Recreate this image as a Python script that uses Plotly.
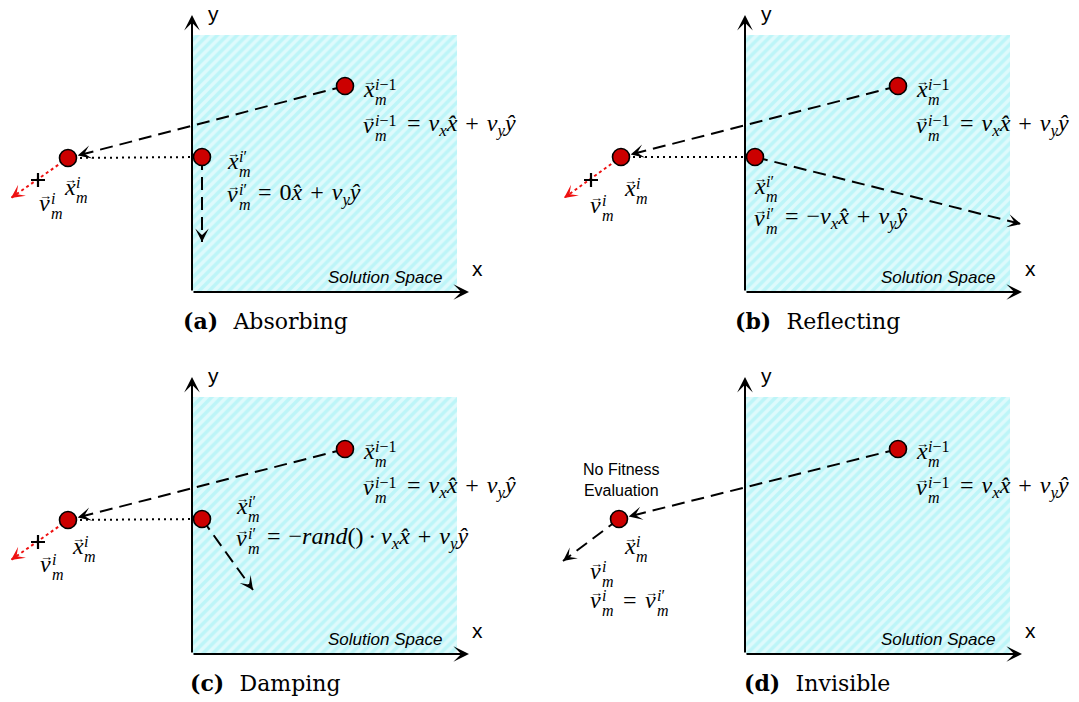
import math
import plotly.graph_objects as go

# ---------------------------------------------------------------------------
# Boundary-handling strategies for a particle leaving the solution space.
# Every panel shares the same local frame (pixels, origin at panel top-left);
# panels are shifted by PANEL_DX / PANEL_DY on the canvas.
# ---------------------------------------------------------------------------
PANEL_TAGS = ["(a)", "(b)", "(c)", "(d)"]
PANEL_NAMES = ["Absorbing", "Reflecting", "Damping", "Invisible"]
PANEL_DX = [0, 553, 0, 553]
PANEL_DY = [0, 0, 362, 362]

# solution space (hatched box) and coordinate axes
SPACE_X = [193, 457]
SPACE_Y = [35, 292]
AXIS_ORIGIN = [192, 292]
AXIS_X_TIP = 469
AXIS_Y_TIP = 15

# particle positions: previous (inside), new (outside), corrected (on boundary)
PREV_X = [345, 345, 345, 345]
PREV_Y = [86, 86, 87, 87]
NEW_X = [68, 68, 68, 66]
NEW_Y = [158, 157, 158, 157]
PRIME_X = [202, 202, 202, None]
PRIME_Y = [157, 157, 157, None]

# tip of the velocity vector after the boundary rule is applied
VEL_TIP_X = [202, 468, 253, 10]
VEL_TIP_Y = [242, 224, 228, 199]

# discarded (red) velocity of the out-of-bounds particle and its end mark
RED_TIP_X = [11, 11, 11, None]
RED_TIP_Y = [198, 198, 198, None]
PLUS_X = [38, 38, 38, None]
PLUS_Y = [180, 180, 180, None]

SP = "\u2004"
RHS_PREV = f"={SP}<i>v<sub>x</sub>x\u0302</i>{SP}+{SP}<i>v<sub>y</sub>\u0177</i>"
RHS_PRIME = [
    f"={SP}0<i>x\u0302</i>{SP}+{SP}<i>v<sub>y</sub>\u0177</i>",
    f"={SP}\u2212<i>v<sub>x</sub>x\u0302</i>{SP}+{SP}<i>v<sub>y</sub>\u0177</i>",
    f"={SP}\u2212<i>rand</i>()\u2009\u00b7\u2009<i>v<sub>x</sub>x\u0302</i>{SP}+{SP}<i>v<sub>y</sub>\u0177</i>",
    None,
]
SUP_PREV = "<i>i</i>\u22121"
SUP_PRIME = "<i>i</i>\u2032"
SUP_NEW = "<i>i</i>"

# label placement (left edge of the symbol, vertical centre) per panel
LBL_PRIME_X = [227, 201, 236, None]
LBL_PRIME_Y = [163, 188, 146, None]
LBL_VPRIME_Y = [196, 220, 178, None]
LBL_NEW_X = [64, 71, 72, 71]
LBL_NEW_Y = [189, 190, 186, 186]
LBL_VNEW_X = [39, 37, 40, 37]
LBL_VNEW_Y = [205, 207, 204, 211]

MATH_FONT = "Liberation Serif"
MATH_SIZE = 24
SCRIPT_SIZE = 16
BLACK = "#000000"
RED = "#ee1111"
DASH = "13px,7px"

fig = go.Figure()


def text(s, x, y, size, anchor="left", font=MATH_FONT, color=BLACK, yanchor="middle"):
    fig.add_annotation(x=x, y=y, xref="x", yref="y", text=s, showarrow=False,
                       xanchor=anchor, yanchor=yanchor, borderpad=0,
                       font=dict(family=font, size=size, color=color))


def vec_symbol(x, y, letter, sup):
    text(f"<i>{letter}</i>", x - 1, y - 2, MATH_SIZE)
    text("\u2192", x + 6, y - 10, 13, anchor="center")
    text(sup, x + 11, y - 7, SCRIPT_SIZE)
    text("<i>m</i>", x + 11, y + 8, SCRIPT_SIZE)


def head(tx, ty, fx, fy, color=BLACK, back=8, standoff=0, width=1.5, size=1.5):
    d = math.hypot(tx - fx, ty - fy)
    ux, uy = (tx - fx) / d, (ty - fy) / d
    fig.add_annotation(x=tx, y=ty, ax=tx - ux * back, ay=ty - uy * back,
                       xref="x", yref="y", axref="x", ayref="y", text="",
                       showarrow=True, arrowhead=3, arrowsize=size,
                       arrowwidth=width, arrowcolor=color, standoff=standoff)


def line(xs, ys, color=BLACK, dash=DASH, width=2):
    fig.add_trace(go.Scatter(x=xs, y=ys, mode="lines", hoverinfo="skip",
                             line=dict(color=color, width=width, dash=dash)))


circ_x, circ_y = [], []
plus_x, plus_y = [], []

for p in range(4):
    dx, dy = PANEL_DX[p], PANEL_DY[p]

    # hatched solution space
    x0, x1 = SPACE_X[0] + dx, SPACE_X[1] + dx
    y0, y1 = SPACE_Y[0] + dy, SPACE_Y[1] + dy
    fig.add_trace(go.Scatter(
        x=[x0, x1, x1, x0, x0], y=[y0, y0, y1, y1, y0], mode="lines",
        fill="toself", line=dict(width=0), hoverinfo="skip",
        fillcolor="#bdf5f8",
        fillpattern=dict(shape="/", bgcolor="#bdf5f8", fgcolor="#ffffff",
                         size=7, solidity=0.5)))

    # axes
    ox, oy = AXIS_ORIGIN[0] + dx, AXIS_ORIGIN[1] + dy
    for tx, ty in [(AXIS_X_TIP + dx, oy), (ox, AXIS_Y_TIP + dy)]:
        fig.add_annotation(x=tx, y=ty, ax=ox, ay=oy, xref="x", yref="y",
                           axref="x", ayref="y", text="", showarrow=True,
                           arrowhead=3, arrowsize=1.3, arrowwidth=2,
                           arrowcolor=BLACK)
    text("x", AXIS_X_TIP + 2 + dx, 268 + dy, 21, font="Liberation Sans")
    text("y", ox + 15, 13 + dy, 21, font="Liberation Sans")
    text("<i>Solution Space</i>", 443 + dx, 277 + dy, 17, anchor="right",
         font="Liberation Sans")

    # caption
    text(f"<b>{PANEL_TAGS[p]}</b>\u2002\u2009{PANEL_NAMES[p]}",
         265 + dx - (p % 2), 321 + dy, 22, anchor="center",
         font="DejaVu Serif")

    px, py = PREV_X[p] + dx, PREV_Y[p] + dy
    nx, ny = NEW_X[p] + dx, NEW_Y[p] + dy
    circ_x += [px, nx]
    circ_y += [py, ny]

    # unconstrained move: previous -> new position
    line([px, nx], [py, ny])
    head(nx, ny, px, py, back=20, standoff=10)

    vtx, vty = VEL_TIP_X[p] + dx, VEL_TIP_Y[p] + dy
    if PRIME_X[p] is not None:
        qx, qy = PRIME_X[p] + dx, PRIME_Y[p] + dy
        circ_x.append(qx)
        circ_y.append(qy)
        # projection back onto the boundary
        line([qx, nx], [qy, ny], dash="2px,4px", width=2)
        # corrected velocity
        line([qx, vtx], [qy, vty])
        head(vtx, vty, qx, qy)
        # discarded velocity of the out-of-bounds particle
        rtx, rty = RED_TIP_X[p] + dx, RED_TIP_Y[p] + dy
        line([nx, rtx], [ny, rty], color=RED, dash="3px,3px", width=2)
        head(rtx, rty, nx, ny, color=RED)
        plus_x.append(PLUS_X[p] + dx)
        plus_y.append(PLUS_Y[p] + dy)
    else:
        # invisible wall: the particle keeps its velocity
        line([nx, vtx], [ny, vty])
        head(vtx, vty, nx, ny)
        text("No Fitness<br>Evaluation", nx + 2, 118 + dy, 16,
             anchor="center", font="Liberation Sans")

    # labels for previous position and velocity
    vec_symbol(363 + dx, 91 + dy, "x", SUP_PREV)
    vec_symbol(363 + dx, 127 + dy, "v", SUP_PREV)
    text(RHS_PREV, 406 + dx, 125 + dy, MATH_SIZE)

    if PRIME_X[p] is not None:
        lx, ly = LBL_PRIME_X[p] + dx, LBL_PRIME_Y[p] + dy
        vec_symbol(lx, ly, "x", SUP_PRIME)
        vy = LBL_VPRIME_Y[p] + dy
        vec_symbol(lx, vy, "v", SUP_PRIME)
        text(RHS_PRIME[p], lx + 30, vy - 2, MATH_SIZE)

    vec_symbol(LBL_NEW_X[p] + dx, LBL_NEW_Y[p] + dy, "x", SUP_NEW)
    vec_symbol(LBL_VNEW_X[p] + dx, LBL_VNEW_Y[p] + dy, "v", SUP_NEW)
    if PRIME_X[p] is None:
        ex, ey = LBL_VNEW_X[p] + dx, 240 + dy
        vec_symbol(ex, ey, "v", SUP_NEW)
        text("=", ex + 32, ey - 2, MATH_SIZE)
        vec_symbol(ex + 55, ey, "v", SUP_PRIME)

# end-of-velocity marks
fig.add_trace(go.Scatter(
    x=plus_x, y=plus_y, mode="markers", hoverinfo="skip",
    marker=dict(symbol="cross-thin", size=10,
                line=dict(color=BLACK, width=2.2))))

# particles
fig.add_trace(go.Scatter(
    x=circ_x, y=circ_y, mode="markers", hoverinfo="skip",
    marker=dict(size=17, color="#cc0000", line=dict(color=BLACK, width=1.6))))

fig.update_layout(
    width=1079, height=702, margin=dict(l=0, r=0, t=0, b=0),
    paper_bgcolor="white", plot_bgcolor="white", showlegend=False,
    xaxis=dict(range=[0, 1079], visible=False, fixedrange=True),
    yaxis=dict(range=[702, 0], visible=False, fixedrange=True),
)

fig.write_html("out.html")
